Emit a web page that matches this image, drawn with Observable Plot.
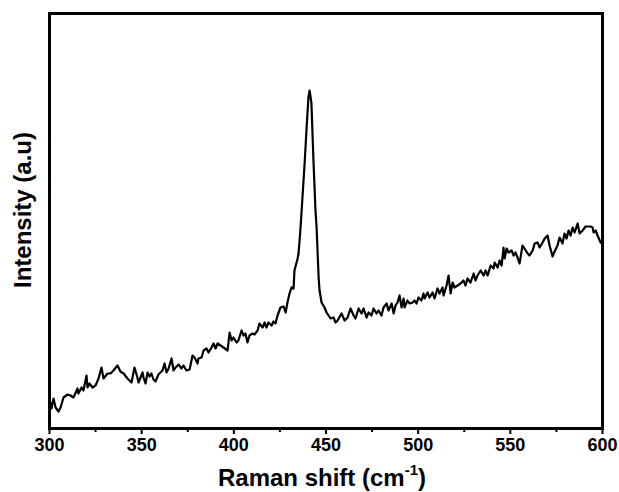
<!DOCTYPE html>
<html>
<head>
<meta charset="utf-8">
<script src="https://cdn.jsdelivr.net/npm/d3@7"></script>
<script src="https://cdn.jsdelivr.net/npm/@observablehq/plot@0.6"></script>
<style>
  html, body { margin: 0; padding: 0; background: #fff; }
  #chart svg { display: block; }
</style>
</head>
<body>
<div id="chart"></div>
<script>
// Raman shift (cm^-1)
const shift = [
  300.5,301.1,302.2,303.3,304.9,306.0,307.6,309.8,311.4,313.0,315.2,315.7,317.4,318.4,320.1,320.6,321.7,323.3,325.0,326.6,
  328.2,329.3,331.5,333.1,334.7,336.9,338.5,340.2,342.3,344.5,346.1,347.7,348.3,350.5,351.0,352.1,353.2,354.3,355.3,356.4,
  357.5,359.1,361.3,362.4,363.5,364.6,366.2,367.3,368.4,370.0,371.6,372.7,374.3,376.0,377.6,378.7,380.3,380.8,382.5,383.6,
  385.2,386.3,387.9,389.0,390.1,391.2,392.8,394.4,396.6,397.7,398.8,399.8,401.5,402.5,404.2,405.3,406.3,407.4,408.5,410.1,
  411.2,412.9,413.9,415.6,416.7,417.7,418.8,420.5,421.5,422.6,423.7,425.3,427.0,428.1,429.1,430.2,431.3,432.4,432.9,434.6,
  435.1,436.2,437.3,438.4,439.4,440.5,441.1,441.6,442.1,443.2,444.3,444.9,446.0,446.5,447.6,449.2,450.3,451.4,452.5,454.1,
  455.2,456.3,458.4,460.1,461.7,463.3,465.0,466.0,467.7,469.3,470.4,472.0,473.1,474.7,475.8,477.4,478.5,480.1,481.2,482.9,
  483.9,485.6,486.7,487.7,488.8,489.9,491.0,492.1,492.6,494.2,495.3,497.0,498.0,499.1,500.2,501.8,502.9,503.5,505.1,506.2,
  507.8,508.9,510.5,511.6,513.2,513.8,515.4,516.5,517.6,518.7,519.7,521.4,523.0,524.6,525.7,526.8,528.4,530.1,531.1,532.2,
  533.9,535.5,536.6,537.7,539.3,540.9,541.5,543.1,544.2,545.3,546.3,546.9,548.0,549.0,550.7,551.8,552.8,553.9,555.0,556.6,
  557.7,559.4,560.4,562.1,563.2,564.8,565.9,567.5,568.6,570.2,571.3,572.9,574.0,575.6,576.7,578.3,579.4,580.5,581.6,582.7,
  583.8,584.9,586.5,587.6,589.2,590.8,593.5,594.6,595.2,596.3,597.3,599.0,599.6
];
// Intensity (arbitrary units)
const intensity = [
  26,20,30,21,17,21,31,34,33,31,40,35,41,38,53,41,45,41,43,50,
  61,50,55,55,58,63,57,55,50,46,61,51,46,56,51,45,56,52,55,49,
  47,54,58,65,56,60,70,58,61,64,60,63,58,59,73,71,65,70,71,78,
  80,76,81,85,80,85,83,81,78,96,88,91,86,88,98,93,95,86,93,95,
  94,98,105,101,106,101,106,103,107,105,113,121,122,116,126,135,141,140,158,170,
  175,201,233,265,298,332,338,332,325,268,218,201,151,138,126,121,116,113,110,111,
  106,108,115,108,111,120,113,110,120,115,120,111,116,113,120,115,118,113,121,125,
  118,125,115,123,126,133,121,130,121,128,125,126,128,125,131,128,135,130,136,131,
  136,130,140,135,141,133,143,153,135,146,141,143,145,148,143,150,146,155,148,153,
  158,153,158,153,163,160,166,161,168,163,181,170,180,176,178,173,176,171,165,183,
  180,175,173,178,185,186,181,186,190,193,183,172,177,183,191,185,195,190,198,193,
  201,196,205,195,198,202,202,201,196,198,193,186,185
];
const xTicks = [300, 350, 400, 450, 500, 550, 600];
const xMinorTicks = [325, 375, 425, 475, 525, 575];

const data = shift.map((s, i) => ({shift: s, intensity: intensity[i]}));

const font = "'Liberation Sans', Arial, sans-serif";

const chart = Plot.plot({
  width: 619,
  height: 492,
  marginLeft: 49,
  marginRight: 17,
  marginTop: 13,
  marginBottom: 64,
  style: {fontFamily: font, background: "#fff", color: "#000"},
  x: {domain: [300, 600]},
  y: {domain: [0, 415], axis: null},
  marks: [
    Plot.axisX({ticks: xMinorTicks, tickSize: 4, strokeWidth: 2, text: null, label: null}),
    Plot.axisX({ticks: xTicks, tickSize: 6, strokeWidth: 2, tickPadding: 4, fontSize: 18, fontWeight: "bold", tickFormat: d3.format("d"), label: null}),
    Plot.line(data, {x: "shift", y: "intensity", stroke: "#000", strokeWidth: 2.2, strokeLinejoin: "round"}),
    Plot.frame({stroke: "#000", strokeWidth: 3})
  ]
});

const svg = d3.select(chart);
svg.selectAll("g[aria-label='x-axis tick label'] text").attr("font-weight", "bold");

// X-axis title with superscript
const xt = svg.append("text")
  .attr("x", 322)
  .attr("y", 486)
  .attr("text-anchor", "middle")
  .attr("font-family", font)
  .attr("font-weight", "bold")
  .attr("font-size", 24)
  .attr("fill", "#000");
xt.append("tspan").text("Raman shift (cm");
xt.append("tspan").attr("font-size", 15).attr("dy", -11).text("-1");
xt.append("tspan").attr("dy", 11).text(")");

// Y-axis title
svg.append("text")
  .attr("transform", `translate(31, 210) rotate(-90)`)
  .attr("text-anchor", "middle")
  .attr("font-family", font)
  .attr("font-weight", "bold")
  .attr("font-size", 24)
  .attr("fill", "#000")
  .text("Intensity (a.u)");

document.getElementById("chart").appendChild(chart);
</script>
</body>
</html>
